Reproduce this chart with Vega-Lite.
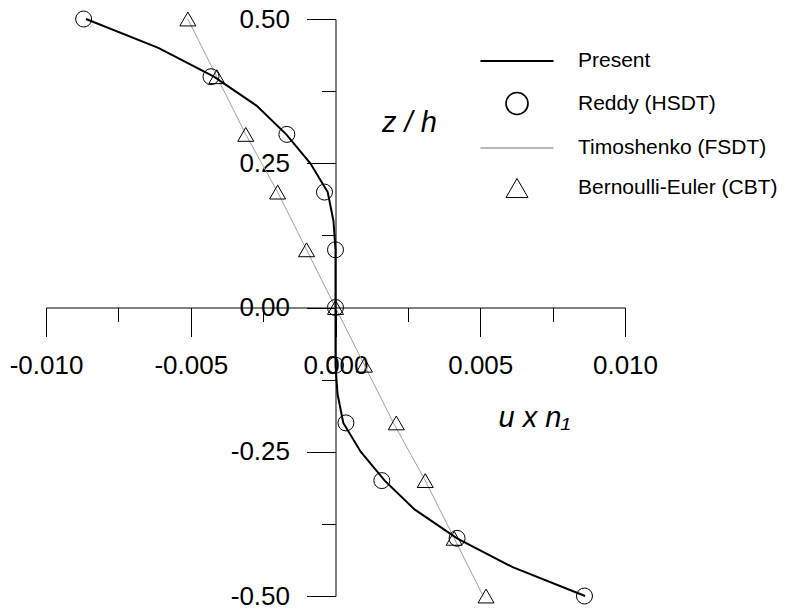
{
  "$schema": "https://vega.github.io/schema/vega-lite/v6.json",
  "width": 579,
  "height": 577,
  "autosize": {"type": "none"},
  "padding": {"left": 46, "top": 19, "right": 160, "bottom": 13},
  "background": "white",
  "config": {
    "view": {"stroke": null},
    "font": "Liberation Sans",
    "legend": {"labelLimit": 400}
  },
  "data": {
    "values": [
      {"series": "Present", "z": 0.5, "u": -0.00862},
      {"series": "Present", "z": 0.45, "u": -0.00612},
      {"series": "Present", "z": 0.4, "u": -0.0042},
      {"series": "Present", "z": 0.35, "u": -0.00273},
      {"series": "Present", "z": 0.3, "u": -0.0017},
      {"series": "Present", "z": 0.25, "u": -0.00087},
      {"series": "Present", "z": 0.2, "u": -0.00027},
      {"series": "Present", "z": 0.15, "u": -0.00007},
      {"series": "Present", "z": 0.1, "u": 0.0},
      {"series": "Present", "z": 0.05, "u": 0.0},
      {"series": "Present", "z": 0.0, "u": 0.0},
      {"series": "Present", "z": -0.05, "u": 0.0},
      {"series": "Present", "z": -0.1, "u": 0.0},
      {"series": "Present", "z": -0.15, "u": 0.00007},
      {"series": "Present", "z": -0.2, "u": 0.00027},
      {"series": "Present", "z": -0.25, "u": 0.00087},
      {"series": "Present", "z": -0.3, "u": 0.0017},
      {"series": "Present", "z": -0.35, "u": 0.00273},
      {"series": "Present", "z": -0.4, "u": 0.0042},
      {"series": "Present", "z": -0.45, "u": 0.00612},
      {"series": "Present", "z": -0.5, "u": 0.00862},
      {"series": "Reddy (HSDT)", "z": 0.5, "u": -0.0087},
      {"series": "Reddy (HSDT)", "z": 0.4, "u": -0.0043},
      {"series": "Reddy (HSDT)", "z": 0.3, "u": -0.00168},
      {"series": "Reddy (HSDT)", "z": 0.2, "u": -0.00038},
      {"series": "Reddy (HSDT)", "z": 0.1, "u": 0.0},
      {"series": "Reddy (HSDT)", "z": 0.0, "u": 0.0},
      {"series": "Reddy (HSDT)", "z": -0.1, "u": 0.0},
      {"series": "Reddy (HSDT)", "z": -0.2, "u": 0.00036},
      {"series": "Reddy (HSDT)", "z": -0.3, "u": 0.0016},
      {"series": "Reddy (HSDT)", "z": -0.4, "u": 0.0042},
      {"series": "Reddy (HSDT)", "z": -0.5, "u": 0.0086},
      {"series": "Timoshenko (FSDT)", "z": 0.5, "u": -0.0051},
      {"series": "Timoshenko (FSDT)", "z": 0.4, "u": -0.0041},
      {"series": "Timoshenko (FSDT)", "z": 0.3, "u": -0.0031},
      {"series": "Timoshenko (FSDT)", "z": 0.2, "u": -0.002},
      {"series": "Timoshenko (FSDT)", "z": 0.1, "u": -0.001},
      {"series": "Timoshenko (FSDT)", "z": 0.0, "u": 0.0},
      {"series": "Timoshenko (FSDT)", "z": -0.1, "u": 0.001},
      {"series": "Timoshenko (FSDT)", "z": -0.2, "u": 0.002},
      {"series": "Timoshenko (FSDT)", "z": -0.3, "u": 0.0031},
      {"series": "Timoshenko (FSDT)", "z": -0.4, "u": 0.0041},
      {"series": "Timoshenko (FSDT)", "z": -0.5, "u": 0.0051},
      {"series": "Bernoulli-Euler (CBT)", "z": 0.5, "u": -0.0051},
      {"series": "Bernoulli-Euler (CBT)", "z": 0.4, "u": -0.0041},
      {"series": "Bernoulli-Euler (CBT)", "z": 0.3, "u": -0.0031},
      {"series": "Bernoulli-Euler (CBT)", "z": 0.2, "u": -0.002},
      {"series": "Bernoulli-Euler (CBT)", "z": 0.1, "u": -0.001},
      {"series": "Bernoulli-Euler (CBT)", "z": 0.0, "u": 0.0},
      {"series": "Bernoulli-Euler (CBT)", "z": -0.1, "u": 0.001},
      {"series": "Bernoulli-Euler (CBT)", "z": -0.2, "u": 0.0021},
      {"series": "Bernoulli-Euler (CBT)", "z": -0.3, "u": 0.0031},
      {"series": "Bernoulli-Euler (CBT)", "z": -0.4, "u": 0.0041},
      {"series": "Bernoulli-Euler (CBT)", "z": -0.5, "u": 0.0052}
    ]
  },
  "encoding": {
    "x": {
      "field": "u",
      "type": "quantitative",
      "scale": {"domain": [-0.01, 0.01], "nice": false, "zero": false},
      "axis": {
        "orient": "bottom",
        "offset": -288.5,
        "values": [-0.01, -0.0075, -0.005, -0.0025, 0, 0.0025, 0.005, 0.0075, 0.01],
        "tickSize": {"condition": {"test": "abs(datum.value) == 0.0075 || abs(datum.value) == 0.0025", "value": 14}, "value": 29},
        "labelExpr": "(abs(datum.value) == 0.0075 || abs(datum.value) == 0.0025) ? '' : replace(format(datum.value, '.3f'), '\u2212', '-')",
        "labelFontSize": 26,
        "labelColor": "black",
        "labelPadding": 16,
        "labelFlush": false,
        "labelOverlap": false,
        "domainColor": "black",
        "tickColor": "black",
        "grid": false,
        "title": "u x n\u2081",
        "titleFontSize": 29,
        "titleFontStyle": "italic",
        "titleFontWeight": "normal",
        "titleColor": "black",
        "titleAngle": 0,
        "titleAlign": "left",
        "titleBaseline": "alphabetic",
        "titleX": 452,
        "titleY": 119
      }
    },
    "y": {
      "field": "z",
      "type": "quantitative",
      "scale": {"domain": [-0.5, 0.5], "nice": false, "zero": false},
      "axis": {
        "orient": "left",
        "offset": -289.5,
        "values": [-0.5, -0.375, -0.25, -0.125, 0, 0.125, 0.25, 0.375, 0.5],
        "tickSize": {"condition": {"test": "abs(datum.value) == 0.375 || abs(datum.value) == 0.125", "value": 14}, "value": 29},
        "labelExpr": "(abs(datum.value) == 0.375 || abs(datum.value) == 0.125) ? '' : replace(format(datum.value, '.2f'), '\u2212', '-')",
        "labelFontSize": 26,
        "labelColor": "black",
        "labelPadding": 17,
        "labelFlush": false,
        "labelOverlap": false,
        "domainColor": "black",
        "tickColor": "black",
        "grid": false,
        "title": "z / h",
        "titleFontSize": 29,
        "titleFontStyle": "italic",
        "titleFontWeight": "normal",
        "titleColor": "black",
        "titleAngle": 0,
        "titleAlign": "left",
        "titleBaseline": "alphabetic",
        "titleX": 46,
        "titleY": 112
      }
    }
  },
  "layer": [
    {
      "transform": [{"filter": "datum.series == 'Timoshenko (FSDT)'"}],
      "mark": {"type": "line", "color": "#a0a0a0", "strokeWidth": 1},
      "encoding": {"order": {"field": "z", "type": "quantitative"}}
    },
    {
      "transform": [{"filter": "datum.series == 'Bernoulli-Euler (CBT)'"}],
      "mark": {"type": "point", "shape": "triangle-up", "filled": false, "color": "black", "strokeWidth": 1, "size": 256, "opacity": 1}
    },
    {
      "transform": [{"filter": "datum.series == 'Reddy (HSDT)'"}],
      "mark": {"type": "point", "shape": "circle", "filled": false, "color": "black", "strokeWidth": 1, "size": 256, "opacity": 1}
    },
    {
      "transform": [{"filter": "datum.series == 'Present'"}],
      "mark": {"type": "line", "color": "black", "strokeWidth": 2},
      "encoding": {"order": {"field": "z", "type": "quantitative"}}
    },
    {
      "mark": {"type": "point", "filled": false, "opacity": 0, "size": 484},
      "encoding": {
        "shape": {
          "field": "series",
          "type": "nominal",
          "scale": {
            "domain": ["Present", "Reddy (HSDT)", "Timoshenko (FSDT)", "Bernoulli-Euler (CBT)"],
            "range": ["M-3.32,0H3.32", "circle", "M-3.32,0H3.32", "triangle-up"]
          },
          "legend": {
            "title": null,
            "orient": "none",
            "legendX": 459,
            "legendY": 30,
            "padding": 0,
            "labelFontSize": 21,
            "labelColor": "black",
            "labelOffset": 49,
            "labelLimit": 400,
            "rowPadding": 17.5,
            "symbolSize": 484,
            "symbolOpacity": 1
          }
        },
        "color": {
          "field": "series",
          "type": "nominal",
          "scale": {
            "domain": ["Present", "Reddy (HSDT)", "Timoshenko (FSDT)", "Bernoulli-Euler (CBT)"],
            "range": ["black", "black", "#a0a0a0", "black"]
          },
          "legend": {
            "title": null,
            "orient": "none",
            "legendX": 459,
            "legendY": 30,
            "padding": 0,
            "labelFontSize": 21,
            "labelColor": "black",
            "labelOffset": 49,
            "labelLimit": 400,
            "rowPadding": 17.5,
            "symbolSize": 484,
            "symbolOpacity": 1
          }
        },
        "strokeWidth": {
          "field": "series",
          "type": "nominal",
          "scale": {
            "domain": ["Present", "Reddy (HSDT)", "Timoshenko (FSDT)", "Bernoulli-Euler (CBT)"],
            "range": [2, 1, 1, 1]
          },
          "legend": {
            "title": null,
            "orient": "none",
            "legendX": 459,
            "legendY": 30,
            "padding": 0,
            "labelFontSize": 21,
            "labelColor": "black",
            "labelOffset": 49,
            "labelLimit": 400,
            "rowPadding": 17.5,
            "symbolSize": 484,
            "symbolOpacity": 1
          }
        }
      }
    }
  ]
}
